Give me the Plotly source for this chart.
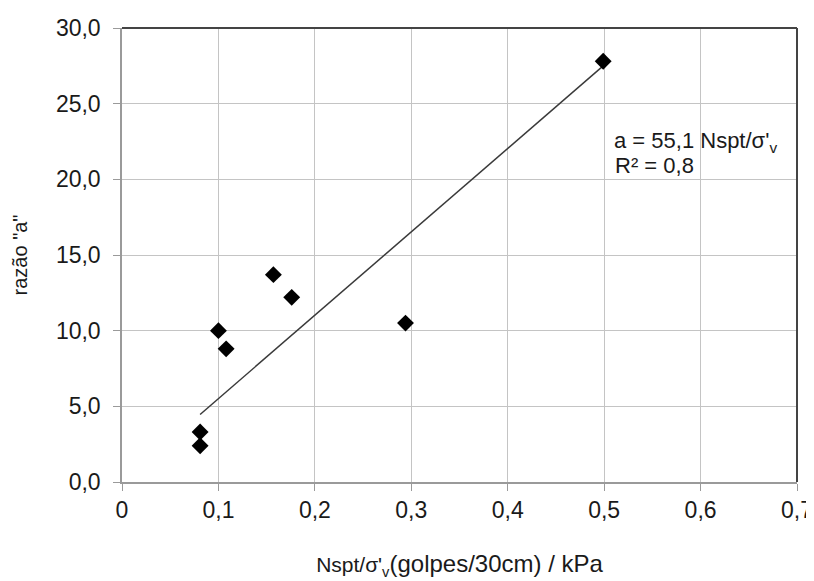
import plotly.graph_objects as go

# data
nspt_sv = [0.081, 0.081, 0.100, 0.108, 0.157, 0.176, 0.294, 0.499]
razao_a = [3.3, 2.4, 10.0, 8.8, 13.7, 12.2, 10.5, 27.8]
slope = 55.1
r2 = 0.8
x_ticks = [0, 0.1, 0.2, 0.3, 0.4, 0.5, 0.6, 0.7]
y_ticks = [0, 5, 10, 15, 20, 25, 30]

FONT = "Liberation Sans, Arial, sans-serif"
TXT = "#1a1a1a"

x_line = [min(nspt_sv), max(nspt_sv)]
y_line = [slope * v for v in x_line]

fig = go.Figure()
fig.add_trace(go.Scatter(x=x_line, y=y_line, mode="lines",
                         line=dict(color="#3a3a3a", width=1.5),
                         showlegend=False, hoverinfo="skip"))
fig.add_trace(go.Scatter(x=nspt_sv, y=razao_a, mode="markers",
                         marker=dict(symbol="diamond", size=13, color="black",
                                     line=dict(width=0)),
                         showlegend=False))

fig.update_layout(
    width=814, height=581, autosize=False,
    margin=dict(l=114, r=25, t=20, b=107, autoexpand=False),
    paper_bgcolor="white", plot_bgcolor="white",
    separators=", ",
    font=dict(family=FONT, color=TXT, size=22),
    xaxis=dict(range=[0, 0.7], tickvals=x_ticks, showgrid=True, automargin=False,
               gridcolor="#c4c4c4", gridwidth=1, zeroline=False,
               showline=True, linecolor="#9a9a9a", linewidth=1.5,
               ticks="outside", ticklen=7, tickcolor="#9a9a9a",
               tickfont=dict(size=23, family=FONT, color=TXT),
               title=dict(text="<span style='font-size:21px'>Nspt/σ'<sub>v</sub></span>(golpes/30cm) / kPa",
                          font=dict(size=24, family=FONT, color=TXT), standoff=33)),
    yaxis=dict(range=[0, 30], tickvals=y_ticks, tickformat=".1f", showgrid=True, automargin=False,
               gridcolor="#c4c4c4", gridwidth=1, zeroline=False,
               showline=True, linecolor="#9a9a9a", linewidth=1.5,
               ticks="outside", ticklen=7, tickcolor="#9a9a9a",
               ticklabelstandoff=8,
               tickfont=dict(size=23, family=FONT, color=TXT),
               title=dict(text='razão "a"', font=dict(size=20, family=FONT, color=TXT),
                          standoff=23)),
)

# darker top and right frame lines
fig.add_shape(type="line", xref="paper", yref="paper", x0=0, x1=1, y0=1, y1=1,
              line=dict(color="#444444", width=2))
fig.add_shape(type="line", xref="paper", yref="paper", x0=1, x1=1, y0=0, y1=1,
              line=dict(color="#444444", width=2))

fig.add_annotation(xref="x", yref="y", x=0.508, y=22.5, xanchor="left", yanchor="middle",
                   showarrow=False, align="left",
                   text=f"a = {str(slope).replace('.', ',')} <span style='font-size:22px'>Nspt/σ'<sub>v</sub></span>",
                   font=dict(size=22, family=FONT, color=TXT))
fig.add_annotation(xref="x", yref="y", x=0.509, y=20.9, xanchor="left", yanchor="middle",
                   showarrow=False, align="left",
                   text=f"R² = {str(r2).replace('.', ',')}",
                   font=dict(size=22, family=FONT, color=TXT))

fig.write_html("out.html")
